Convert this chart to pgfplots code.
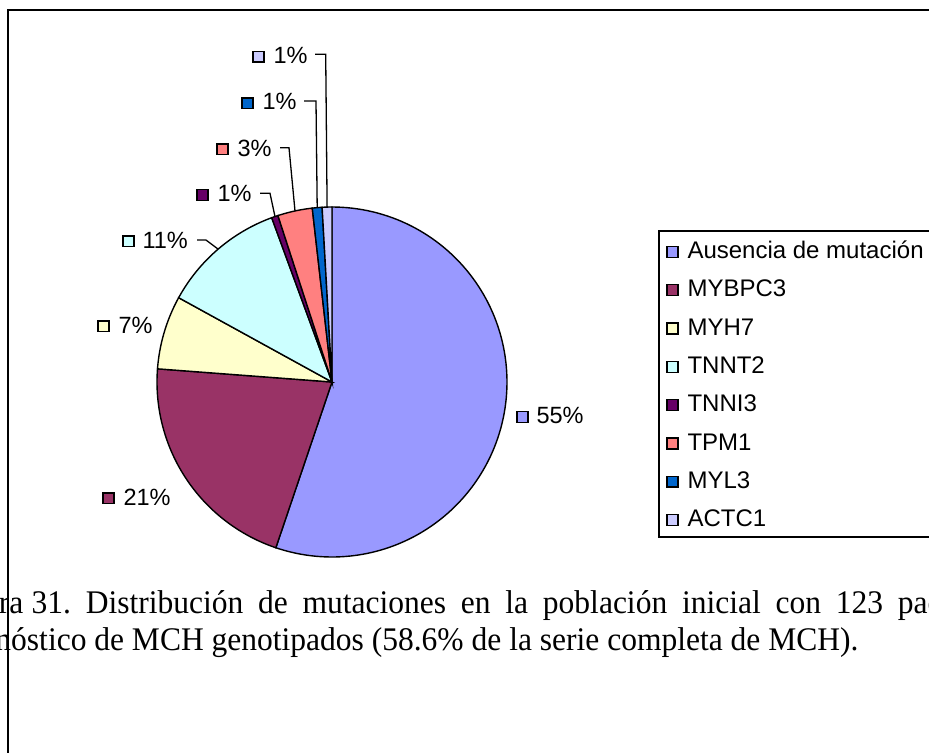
\documentclass[border=0pt]{standalone}
\usepackage{fontspec}
\setmainfont{Liberation Serif}
\newfontfamily\capfont[FakeStretch=0.955]{Liberation Serif}
\newfontfamily\arial{Liberation Sans}
\usepackage{pgfplots}
\pgfplotsset{compat=1.18}

\definecolor{cAus}{HTML}{9999FF}
\definecolor{cMYB}{HTML}{993366}
\definecolor{cMYH}{HTML}{FFFFCC}
\definecolor{cTNNT}{HTML}{CCFFFF}
\definecolor{cTNNI}{HTML}{660066}
\definecolor{cTPM}{HTML}{FF8080}
\definecolor{cMYL}{HTML}{0066CC}
\definecolor{cACT}{HTML}{CCCCFF}

% slice shares in percent (clockwise from 12 o'clock)
\def\pA{55.2}% Ausencia de mutacion
\def\pB{21.0}% MYBPC3
\def\pC{6.8}%  MYH7
\def\pD{11.4}% TNNT2
\def\pE{0.6}%  TNNI3
\def\pF{3.2}%  TPM1
\def\pG{0.9}%  MYL3
\def\pH{0.9}%  ACTC1
\pgfmathsetmacro\aA{0}
\pgfmathsetmacro\aB{\aA+3.6*\pA}
\pgfmathsetmacro\aC{\aB+3.6*\pB}
\pgfmathsetmacro\aD{\aC+3.6*\pC}
\pgfmathsetmacro\aE{\aD+3.6*\pD}
\pgfmathsetmacro\aF{\aE+3.6*\pE}
\pgfmathsetmacro\aG{\aF+3.6*\pF}
\pgfmathsetmacro\aH{\aG+3.6*\pG}
\pgfmathsetmacro\aI{\aH+3.6*\pH}

\newcommand\sq[1]{\raisebox{2bp}{\setlength\fboxsep{0pt}\setlength\fboxrule{1.4bp}\fcolorbox{black}{#1}{\rule{0pt}{9.5bp}\hspace{9.5bp}}}}
\newcommand\slice[3]{\addplot[fill=#1, draw=black, line width=1.4bp, domain=#2:#3, samples=120, variable=\t] ({332+175*sin(\t)},{382-175*cos(\t)}) -- (axis cs:332,382) -- cycle;}

\begin{document}
\frenchspacing
\begin{tikzpicture}
\useasboundingbox (0,0) rectangle (929bp,753bp);
\clip (0,0) rectangle (929bp,753bp);
\fill[white] (0,0) rectangle (929bp,753bp);
\begin{axis}[
  at={(0,0)}, anchor=south west,
  scale only axis, width=929bp, height=753bp,
  xmin=0, xmax=929, ymin=0, ymax=753, y dir=reverse,
  hide axis, clip=false,
]
% frame
\addplot[black, line width=2bp, mark=none] coordinates {(8,800) (8,10) (960,10)};
% pie
\slice{cAus}{\aA}{\aB}
\slice{cMYB}{\aB}{\aC}
\slice{cMYH}{\aC}{\aD}
\slice{cTNNT}{\aD}{\aE}
\slice{cTNNI}{\aE}{\aF}
\slice{cTPM}{\aF}{\aG}
\slice{cMYL}{\aG}{\aH}
\slice{cACT}{\aH}{\aI}
% leader lines
\addplot[black, line width=1.3bp, mark=none] coordinates {(197,240) (206,240) (218,249)};
\addplot[black, line width=1.3bp, mark=none] coordinates {(260,193.3) (270,193.3) (275,216.6)};
\addplot[black, line width=1.3bp, mark=none] coordinates {(280,147.7) (289,147.7) (295,211)};
\addplot[black, line width=1.3bp, mark=none] coordinates {(304,101) (316,101) (317.2,207.6)};
\addplot[black, line width=1.3bp, mark=none] coordinates {(315,54.3) (325.7,54.3) (327.1,207)};
% data labels
\begin{scope}[every node/.style={anchor=base west, inner sep=0pt, font=\arial\fontsize{23.5bp}{27bp}\selectfont}]
\node at (axis cs:516,423.5) {\sq{cAus}\hspace{8bp}55\%};
\node at (axis cs:102,505) {\sq{cMYB}\hspace{9bp}21\%};
\node at (axis cs:97,333) {\sq{cMYH}\hspace{9bp}7\%};
\node at (axis cs:122,248) {\sq{cTNNT}\hspace{8bp}11\%};
\node at (axis cs:196,201.5) {\sq{cTNNI}\hspace{9bp}1\%};
\node at (axis cs:216,156) {\sq{cTPM}\hspace{9bp}3\%};
\node at (axis cs:241,110) {\sq{cMYL}\hspace{9bp}1\%};
\node at (axis cs:252,63.5) {\sq{cACT}\hspace{9bp}1\%};
\end{scope}
% legend
\addplot[black, line width=1.4bp, mark=none] coordinates {(960,231) (659,231) (659,537) (960,537)};
\begin{scope}[every node/.style={anchor=base west, inner sep=0pt, font=\arial\fontsize{24bp}{28bp}\selectfont}]
\node at (axis cs:666,258.6) {\sq{cAus}\hspace{9bp}Ausencia de mutación};
\node at (axis cs:666,296.9) {\sq{cMYB}\hspace{9bp}MYBPC3};
\node at (axis cs:666,335.2) {\sq{cMYH}\hspace{9bp}MYH7};
\node at (axis cs:666,373.5) {\sq{cTNNT}\hspace{9bp}TNNT2};
\node at (axis cs:666,411.8) {\sq{cTNNI}\hspace{9bp}TNNI3};
\node at (axis cs:666,450.1) {\sq{cTPM}\hspace{9bp}TPM1};
\node at (axis cs:666,488.4) {\sq{cMYL}\hspace{9bp}MYL3};
\node at (axis cs:666,526.7) {\sq{cACT}\hspace{9bp}ACTC1};
\end{scope}
% caption
\begin{scope}[every node/.style={anchor=base west, inner sep=0pt, font=\capfont\fontsize{33bp}{38bp}\selectfont}]
\node at (axis cs:-59,613.5) {\makebox[1134bp][s]{Figura\kern0.25em 31. Distribución de mutaciones en la población inicial con 123 pacientes con}};
\node at (axis cs:-59,650.5) {diagnóstico de MCH genotipados (58.6\% de la serie completa de MCH).};
\end{scope}
\end{axis}
\end{tikzpicture}
\end{document}
